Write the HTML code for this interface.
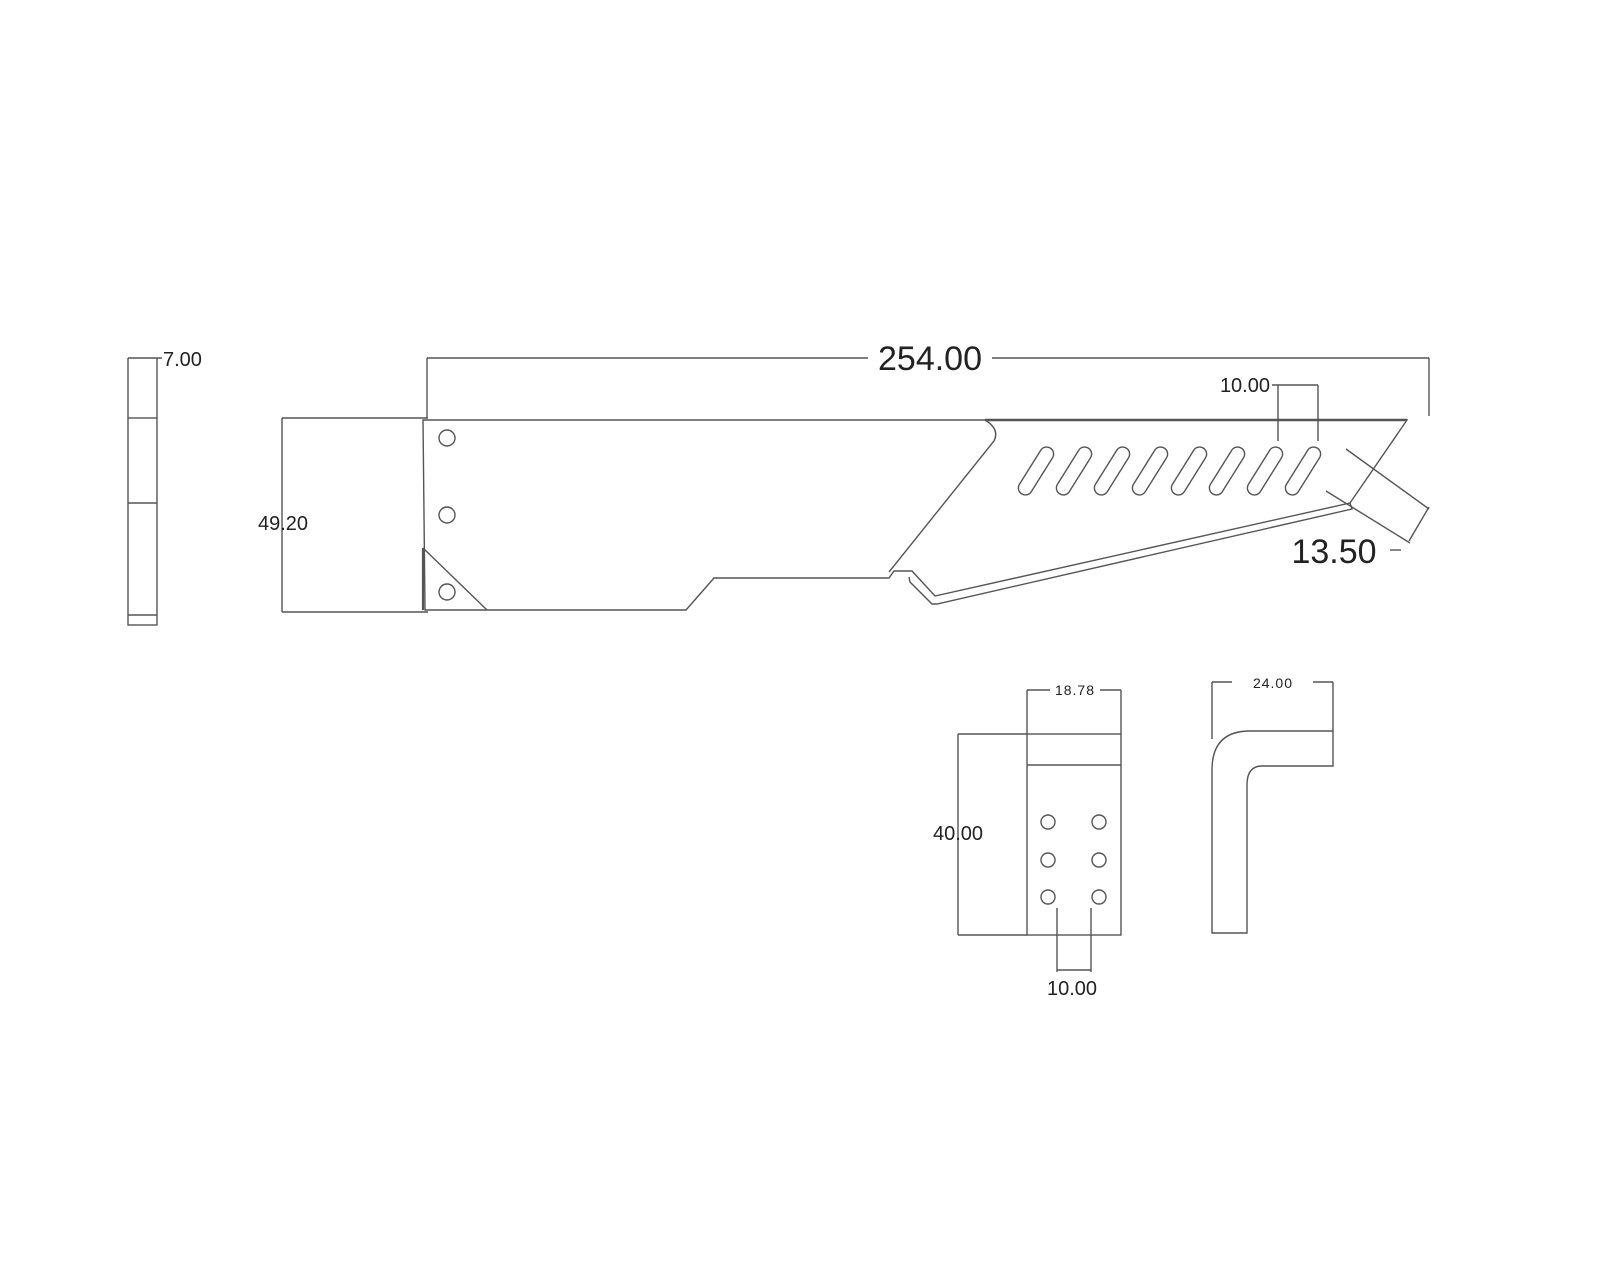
<!DOCTYPE html>
<html><head><meta charset="utf-8"><style>
html,body{margin:0;padding:0;background:#fff;width:1600px;height:1280px;overflow:hidden}
svg{display:block}
text{font-family:"Liberation Sans","DejaVu Sans",sans-serif;fill:#222}
</style></head><body>
<svg width="1600" height="1280" viewBox="0 0 1600 1280" xmlns="http://www.w3.org/2000/svg">
<g fill="none" stroke="#555" stroke-width="1.4">
<!-- left side view -->
<rect x="128" y="418" width="29" height="207"/>
<line x1="128" y1="503" x2="157" y2="503"/>
<line x1="128" y1="615" x2="157" y2="615"/>
<line x1="128" y1="358" x2="128" y2="418"/>
<line x1="157" y1="358" x2="157" y2="418"/>
<line x1="128" y1="358" x2="162" y2="358"/>
<!-- 49.20 -->
<line x1="282" y1="418" x2="282" y2="612"/>
<line x1="282" y1="418" x2="428" y2="418"/>
<line x1="282" y1="612" x2="428" y2="612"/>
<!-- 254 dim -->
<line x1="427" y1="358" x2="427" y2="418"/>
<line x1="427" y1="358" x2="868" y2="358"/>
<line x1="992" y1="358" x2="1429" y2="358"/>
<line x1="1429" y1="358" x2="1429" y2="416"/>
<!-- main part -->
<path d="M423,420 L1407,420 L1350,503 L935,596 L912,571 L894,571 L889,578 L714,578 L686,610 L425,610 Z"/>
<line x1="985" y1="420" x2="1407" y2="420" stroke-width="2.4"/>
<path d="M1350,503 L1352,509 L937,604 L932,604 L910,582 L909,577"/>
<path d="M985,420 Q1000,429 994,441 L889,572"/>
<line x1="423" y1="548" x2="487" y2="610"/>
<line x1="423" y1="548" x2="423" y2="610" stroke-width="2.2"/>
<circle cx="447" cy="438" r="8"/>
<circle cx="447" cy="515" r="8"/>
<circle cx="447" cy="592" r="8"/>
<!-- slots -->
<g transform="translate(1036,471) rotate(-58)"><rect x="-27" y="-7" width="54" height="14" rx="7"/></g>
<g transform="translate(1074,471) rotate(-58)"><rect x="-27" y="-7" width="54" height="14" rx="7"/></g>
<g transform="translate(1112,471) rotate(-58)"><rect x="-27" y="-7" width="54" height="14" rx="7"/></g>
<g transform="translate(1150,471) rotate(-58)"><rect x="-27" y="-7" width="54" height="14" rx="7"/></g>
<g transform="translate(1189,471) rotate(-58)"><rect x="-27" y="-7" width="54" height="14" rx="7"/></g>
<g transform="translate(1227,471) rotate(-58)"><rect x="-27" y="-7" width="54" height="14" rx="7"/></g>
<g transform="translate(1265,471) rotate(-58)"><rect x="-27" y="-7" width="54" height="14" rx="7"/></g>
<g transform="translate(1303,471) rotate(-58)"><rect x="-27" y="-7" width="54" height="14" rx="7"/></g>
<!-- 10.00 top -->
<line x1="1272" y1="385" x2="1318" y2="385"/>
<line x1="1278" y1="385" x2="1278" y2="441"/>
<line x1="1318" y1="385" x2="1318" y2="441"/>
<!-- 13.50 -->
<line x1="1346" y1="449" x2="1429" y2="509"/>
<line x1="1326" y1="491" x2="1410" y2="543"/>
<line x1="1429" y1="507" x2="1409" y2="541"/>
<line x1="1390" y1="550" x2="1401" y2="550"/>
<!-- bottom front view -->
<rect x="1027" y="734" width="94" height="201"/>
<line x1="1027" y1="765" x2="1121" y2="765"/>
<line x1="1027" y1="690" x2="1027" y2="734"/>
<line x1="1121" y1="690" x2="1121" y2="734"/>
<line x1="1027" y1="690" x2="1050" y2="690"/>
<line x1="1100" y1="690" x2="1121" y2="690"/>
<circle cx="1048" cy="822" r="7"/><circle cx="1099" cy="822" r="7"/>
<circle cx="1048" cy="860" r="7"/><circle cx="1099" cy="860" r="7"/>
<circle cx="1048" cy="897" r="7"/><circle cx="1099" cy="897" r="7"/>
<line x1="958" y1="734" x2="958" y2="935"/>
<line x1="958" y1="734" x2="1027" y2="734"/>
<line x1="958" y1="935" x2="1027" y2="935"/>
<line x1="1057" y1="908" x2="1057" y2="972"/>
<line x1="1091" y1="908" x2="1091" y2="972"/>
<line x1="1057" y1="970" x2="1091" y2="970"/>
<!-- L view -->
<path d="M1212,933 L1212,770 Q1212,731 1250,731 L1333,731 L1333,766 L1262,766 Q1247,766 1247,785 L1247,933 Z"/>
<line x1="1212" y1="682" x2="1212" y2="739"/>
<line x1="1333" y1="682" x2="1333" y2="731"/>
<line x1="1212" y1="682" x2="1232" y2="682"/>
<line x1="1313" y1="682" x2="1333" y2="682"/>
</g>
<text x="163" y="366" font-size="20">7.00</text>
<text x="283" y="530" font-size="20" text-anchor="middle">49.20</text>
<text x="930" y="370" font-size="34" text-anchor="middle">254.00</text>
<text x="1270" y="392" font-size="20" text-anchor="end">10.00</text>
<text x="1334" y="563" font-size="34" text-anchor="middle">13.50</text>
<text x="1075" y="695" font-size="14" text-anchor="middle" letter-spacing="1">18.78</text>
<text x="958" y="840" font-size="20" text-anchor="middle">40.00</text>
<text x="1072" y="995" font-size="20" text-anchor="middle">10.00</text>
<text x="1273" y="688" font-size="14" text-anchor="middle" letter-spacing="1">24.00</text>
</svg>
</body></html>
